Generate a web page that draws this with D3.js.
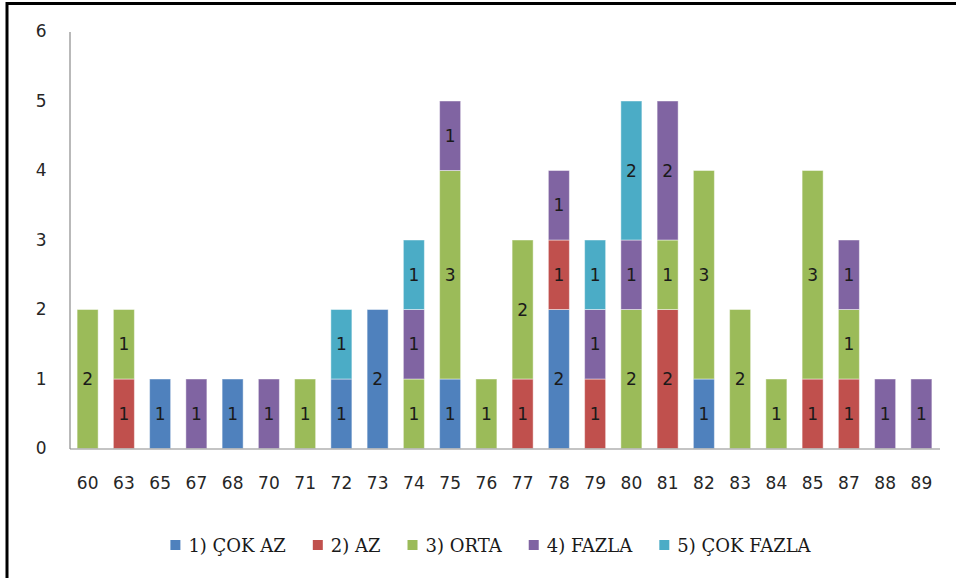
<!DOCTYPE html>
<html>
<head>
<meta charset="utf-8">
<script src="https://cdn.jsdelivr.net/npm/d3@7/dist/d3.min.js"></script>
<style>
  html, body { margin: 0; padding: 0; background: #fff; }
  svg { display: block; }
</style>
</head>
<body>
<svg id="chart" width="956" height="578"></svg>
<script>
const categories = ["60","63","65","67","68","70","71","72","73","74","75","76","77","78","79","80","81","82","83","84","85","87","88","89"];
const seriesNames = ["1) ÇOK AZ", "2) AZ", "3) ORTA", "4) FAZLA", "5) ÇOK FAZLA"];
const cokAz    = [0,0,1,0,1,0,0,1,2,0,1,0,0,2,0,0,0,1,0,0,0,0,0,0];
const az       = [0,1,0,0,0,0,0,0,0,0,0,0,1,1,1,0,2,0,0,0,1,1,0,0];
const orta     = [2,1,0,0,0,0,1,0,0,1,3,1,2,0,0,2,1,3,2,1,3,1,0,0];
const fazla    = [0,0,0,1,0,1,0,0,0,1,1,0,0,1,1,1,2,0,0,0,0,1,1,1];
const cokFazla = [0,0,0,0,0,0,0,1,0,1,0,0,0,0,1,2,0,0,0,0,0,0,0,0];
const yTicks = [0,1,2,3,4,5,6];
const colors = ["#4F81BD", "#C0504D", "#9BBB59", "#8064A2", "#4BACC6"];

const seriesValues = [cokAz, az, orta, fazla, cokFazla];
const table = categories.map((c, i) => {
  const row = { cat: c };
  seriesNames.forEach((s, k) => row[s] = seriesValues[k][i]);
  return row;
});

const svg = d3.select("#chart");
const numFont = "'DejaVu Sans', sans-serif";
const legFont = "'DejaVu Serif', serif";

// outer frame
svg.append("rect")
  .attr("x", 7).attr("y", 3.5)
  .attr("width", 1000).attr("height", 700)
  .attr("fill", "#fff")
  .attr("stroke", "#000").attr("stroke-width", 3);

const x = d3.scaleBand().domain(categories).range([69.5, 939.5]).paddingInner(0.42).paddingOuter(0.21);
const y = d3.scaleLinear().domain([0, 6]).range([448.5, 31.5]);

const stack = d3.stack().keys(seriesNames)(table);

const g = svg.append("g");
stack.forEach((layer, k) => {
  const lg = g.append("g");
  lg.selectAll("rect").data(layer.filter(d => d[1] - d[0] > 0)).join("rect")
    .attr("x", d => x(d.data.cat))
    .attr("width", x.bandwidth())
    .attr("y", d => y(d[1]))
    .attr("height", d => y(d[0]) - y(d[1]))
    .attr("fill", colors[k])
    .attr("stroke", "rgba(255,255,255,0.45)")
    .attr("stroke-width", 1);
  lg.selectAll("text").data(layer.filter(d => d[1] - d[0] > 0)).join("text")
    .attr("x", d => x(d.data.cat) + x.bandwidth() / 2)
    .attr("y", d => (y(d[0]) + y(d[1])) / 2)
    .attr("dy", "0.36em")
    .attr("text-anchor", "middle")
    .attr("font-family", numFont)
    .attr("font-size", 17)
    .attr("fill", "#1a1a1a")
    .text(d => d[1] - d[0]);
});

// axes
const yAxis = d3.axisLeft(y).tickValues(yTicks).tickSize(0).tickPadding(23).tickFormat(d3.format("d"));
const yg = svg.append("g").attr("transform", "translate(69.5,0)").call(yAxis);
yg.select(".domain").attr("stroke", "#8a8a8a").attr("stroke-width", 1.2);
yg.selectAll("text").attr("font-family", numFont).attr("font-size", 17).attr("fill", "#262626");

const xAxis = d3.axisBottom(x).tickSize(0).tickPadding(28);
const xg = svg.append("g").attr("transform", "translate(0,448.5)").call(xAxis);
xg.select(".domain").attr("stroke", "#8a8a8a").attr("stroke-width", 1.2);
xg.selectAll("text").attr("font-family", numFont).attr("font-size", 17).attr("fill", "#262626");

// legend
const leg = svg.append("g");
let cx = 0;
const gap = 27;
seriesNames.forEach((name, k) => {
  const item = leg.append("g").attr("transform", `translate(${cx},0)`);
  item.append("rect").attr("x", 0).attr("y", -5.5).attr("width", 10).attr("height", 10).attr("fill", colors[k]);
  const t = item.append("text").attr("x", 18).attr("y", 0).attr("dy", "0.36em")
    .attr("font-family", legFont).attr("font-size", 18).attr("fill", "#1a1a1a").text(name);
  cx += 18 + t.node().getComputedTextLength() + gap;
});
const legWidth = cx - gap;
leg.attr("transform", `translate(${490.5 - legWidth / 2},545.5)`);
</script>
</body>
</html>
